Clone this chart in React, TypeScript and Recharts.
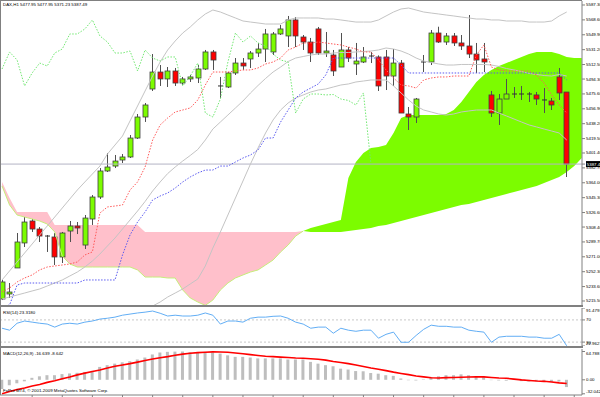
import {
  Area,
  Bar,
  ComposedChart,
  Line,
  ReferenceLine,
  XAxis,
  YAxis,
} from "recharts";

const symbol = "DAX,H1";

// hourly candles, oldest first
const opens = [
  5218.0, 5224.3, 5257.0, 5288.4, 5316.0, 5305.9, 5297.1, 5295.9, 5270.8, 5303.4,
  5309.7, 5285.8, 5318.5, 5346.1, 5378.8, 5385.0, 5392.6, 5396.4, 5420.2, 5446.6,
  5481.8, 5503.1, 5494.4, 5504.4, 5489.3, 5494.4, 5495.6, 5506.9, 5528.3, 5484.3,
  5484.3, 5501.9, 5514.4, 5519.5, 5527.0, 5532.0, 5528.3, 5550.9, 5548.4, 5568.5,
  5547.1, 5540.8, 5557.2, 5527.0, 5524.5, 5509.4, 5530.8, 5513.2, 5515.7, 5523.2,
  5522.0, 5522.0, 5498.1, 5514.4, 5450.4, 5446.6, 5514.4, 5515.7, 5552.1, 5540.8,
  5548.4, 5539.6, 5535.8, 5525.7, 5519.5, 5474.3, 5451.6, 5469.2, 5474.3, 5475.5,
  5475.5, 5474.3, 5468.0, 5466.7, 5496.9, 5477.95,
];
const highs = [
  5241.9, 5238.1, 5300.9, 5321.0, 5318.5, 5308.4, 5298.4, 5300.9, 5302.2, 5316.0,
  5314.7, 5323.5, 5348.6, 5382.5, 5401.4, 5398.9, 5400.1, 5424.0, 5450.4, 5464.2,
  5525.7, 5511.9, 5509.4, 5508.2, 5496.9, 5499.4, 5511.9, 5530.8, 5530.8, 5496.9,
  5503.1, 5520.7, 5520.7, 5529.5, 5539.6, 5557.2, 5553.4, 5562.2, 5573.5, 5572.2,
  5549.6, 5545.9, 5559.7, 5553.4, 5530.8, 5552.1, 5534.5, 5539.6, 5534.5, 5528.3,
  5524.0, 5530.8, 5532.0, 5518.2, 5459.2, 5470.5, 5524.5, 5555.9, 5560.0, 5552.1,
  5552.1, 5549.6, 5574.7, 5539.6, 5539.6, 5479.3, 5475.5, 5494.4, 5484.3, 5485.6,
  5478.0, 5478.0, 5483.0, 5470.5, 5508.2, 5477.95,
];
const lows = [
  5216.7, 5219.3, 5257.0, 5283.3, 5302.2, 5289.6, 5277.1, 5260.7, 5263.2, 5289.6,
  5299.6, 5280.8, 5311.0, 5343.6, 5377.5, 5382.5, 5388.8, 5395.1, 5419.0, 5440.4,
  5479.3, 5485.6, 5484.3, 5485.6, 5486.8, 5490.6, 5489.3, 5505.7, 5505.7, 5470.5,
  5483.0, 5499.4, 5505.7, 5508.2, 5522.0, 5515.7, 5524.5, 5549.6, 5534.5, 5534.5,
  5530.8, 5515.7, 5524.5, 5522.0, 5498.1, 5509.4, 5515.7, 5499.4, 5514.4, 5514.4,
  5479.3, 5480.5, 5485.6, 5451.6, 5430.3, 5439.1, 5503.1, 5511.9, 5539.6, 5537.1,
  5535.8, 5530.8, 5520.7, 5501.9, 5503.1, 5446.6, 5436.6, 5469.2, 5470.5, 5468.0,
  5465.5, 5461.7, 5451.6, 5455.4, 5468.0, 5371.23,
];
const closes = [
  5239.4, 5226.8, 5289.6, 5314.7, 5305.9, 5297.1, 5295.9, 5270.8, 5300.9, 5309.7,
  5307.2, 5319.7, 5346.1, 5378.8, 5383.8, 5391.3, 5396.4, 5420.2, 5446.6, 5461.7,
  5503.1, 5494.4, 5504.4, 5489.3, 5494.4, 5496.9, 5506.9, 5528.3, 5518.2, 5485.6,
  5501.9, 5514.4, 5510.7, 5527.0, 5532.0, 5550.9, 5550.9, 5557.2, 5568.5, 5548.4,
  5540.8, 5527.0, 5527.0, 5529.5, 5504.4, 5530.8, 5520.7, 5516.9, 5522.0, 5522.0,
  5485.6, 5498.1, 5514.4, 5451.6, 5446.6, 5469.2, 5515.7, 5552.1, 5540.8, 5548.4,
  5539.6, 5535.8, 5525.7, 5518.2, 5515.7, 5451.6, 5469.2, 5475.5, 5475.5, 5474.3,
  5474.9, 5469.2, 5467.4, 5461.7, 5476.8, 5387.49,
];

// bollinger bands
const bbUpper = [
  5241.9, 5253.2, 5264.5, 5275.8, 5287.1, 5298.4, 5309.7, 5321.0, 5332.3, 5343.6,
  5354.9, 5365.0, 5375.0, 5385.0, 5400.1, 5411.4, 5422.7, 5441.6, 5460.4, 5479.3,
  5498.1, 5515.7, 5530.8, 5542.1, 5552.1, 5559.7, 5568.5, 5576.0, 5581.0, 5578.5,
  5574.7, 5571.0, 5567.2, 5565.9, 5564.7, 5563.4, 5563.4, 5563.4, 5568.5, 5571.0,
  5571.0, 5571.0, 5571.0, 5569.7, 5569.7, 5568.5, 5567.2, 5565.9, 5565.9, 5565.9,
  5568.5, 5573.5, 5578.5, 5582.3, 5583.5, 5581.0, 5578.5, 5577.2, 5576.0, 5574.7,
  5573.5, 5572.2, 5571.0, 5569.7, 5569.7, 5568.5, 5568.5, 5567.2, 5567.2, 5567.2,
  5565.9, 5565.9, 5565.9, 5567.2, 5573.5, 5578.5,
];
const bbMiddle = [
  5218.0, 5220.5, 5223.0, 5225.5, 5228.1, 5230.6, 5234.3, 5238.1, 5241.9, 5246.9,
  5251.9, 5258.2, 5265.7, 5274.5, 5284.6, 5294.6, 5305.9, 5317.2, 5328.5, 5340.5,
  5353.7, 5365.0, 5375.6, 5383.8, 5391.3, 5398.3, 5405.8, 5417.7, 5431.5, 5440.3,
  5449.1, 5457.9, 5466.7, 5476.8, 5486.2, 5495.0, 5503.1, 5509.4, 5516.3, 5520.7,
  5522.6, 5524.5, 5525.7, 5525.7, 5527.0, 5527.6, 5527.6, 5528.3, 5528.9, 5529.5,
  5530.8, 5533.3, 5532.0, 5529.5, 5525.7, 5520.7, 5516.9, 5515.1, 5513.2, 5511.9,
  5511.9, 5512.6, 5512.6, 5512.6, 5512.6, 5511.9, 5510.1, 5507.5, 5505.7, 5503.8,
  5501.3, 5500.0, 5498.7, 5498.1, 5500.0, 5498.1,
];
const bbLower = [
  null, null, null, null, null, null, null, null, null, null,
  null, null, null, null, null, null, null, null, null, 5201.7,
  5209.2, 5214.2, 5220.5, 5225.5, 5230.6, 5236.9, 5243.1, 5259.5, 5282.0, 5302.2,
  5323.5, 5344.9, 5366.2, 5387.6, 5407.7, 5426.5, 5442.9, 5455.4, 5464.2, 5470.5,
  5474.3, 5478.0, 5480.5, 5481.8, 5484.3, 5486.8, 5488.1, 5490.6, 5491.8, 5493.1,
  5493.1, 5493.1, 5485.6, 5476.8, 5468.0, 5460.4, 5455.4, 5452.9, 5450.4, 5449.1,
  5450.4, 5452.9, 5454.2, 5455.4, 5455.4, 5455.4, 5451.6, 5447.9, 5444.1, 5440.3,
  5436.6, 5434.1, 5431.5, 5429.0, 5426.5, 5417.7,
];

// ichimoku
const tenkan = [
  5226.8, 5231.8, 5239.4, 5244.4, 5248.2, 5254.5, 5258.2, 5259.5, 5260.7, 5262.0,
  5264.5, 5273.3, 5277.1, 5326.0, 5333.6, 5334.8, 5336.1, 5354.9, 5365.0, 5383.8,
  5417.7, 5436.6, 5445.4, 5452.9, 5455.4, 5458.0, 5468.0, 5486.8, 5503.1, 5503.1,
  5503.1, 5504.4, 5505.7, 5505.7, 5508.2, 5513.2, 5515.7, 5520.7, 5530.8, 5534.5,
  5539.6, 5539.6, 5540.8, 5539.6, 5538.3, 5537.1, 5534.5, 5532.0, 5528.3, 5528.3,
  5518.2, 5505.7, 5495.6, 5486.8, 5485.6, 5483.0, 5493.1, 5495.6, 5496.9, 5496.9,
  5498.1, 5498.1, 5498.1, 5524.5, 5537.1, 5509.4, 5505.7, 5504.4, 5504.4, 5504.4,
  5504.4, 5499.4, 5489.3, 5474.3, 5461.7, 5451.6,
];
const kijun = [
  5207.9, 5210.5, 5235.6, 5238.1, 5238.1, 5238.1, 5238.1, 5238.1, 5238.1, 5238.1,
  5238.1, 5241.9, 5241.9, 5241.9, 5241.9, 5241.9, 5273.3, 5298.4, 5314.7, 5327.3,
  5342.4, 5347.4, 5351.2, 5357.4, 5365.0, 5371.3, 5376.3, 5380.0, 5380.0, 5385.0,
  5385.0, 5390.1, 5395.1, 5398.9, 5405.2, 5420.2, 5420.2, 5440.3, 5455.4, 5470.5,
  5478.0, 5483.0, 5488.1, 5499.4, 5520.7, 5520.7, 5520.7, 5520.7, 5520.7, 5520.7,
  5520.7, 5520.7, 5520.7, 5511.9, 5501.9, 5501.9, 5501.9, 5501.9, 5501.9, 5501.9,
  5501.9, 5501.9, 5501.9, 5501.9, 5501.9, 5501.9, 5501.9, 5501.9, 5501.9, 5501.9,
  5501.9, 5501.9, 5501.9, 5501.9, 5501.9, 5493.1,
];
// senkou spans run two bars past the last candle
const spanA = [
  5360.0, 5336.1, 5323.5, 5321.0, 5318.5, 5316.0, 5312.2, 5302.2, 5272.0, 5262.0,
  5258.2, 5258.2, 5258.2, 5258.2, 5258.2, 5258.2, 5258.2, 5258.2, 5254.5, 5245.6,
  5245.6, 5245.6, 5244.4, 5244.4, 5229.3, 5219.3, 5214.2, 5210.0, 5216.7, 5229.3,
  5238.1, 5244.4, 5248.2, 5251.9, 5254.5, 5260.7, 5267.0, 5277.1, 5285.8, 5297.1,
  5303.4, 5307.2, 5309.7, 5312.2, 5314.7, 5317.2, 5370.0, 5390.1, 5401.4, 5407.7,
  5409.0, 5411.4, 5426.5, 5445.4, 5449.1, 5449.1, 5449.1, 5449.1, 5449.1, 5450.4,
  5455.4, 5465.5, 5478.0, 5490.6, 5499.4, 5505.7, 5510.7, 5514.4, 5518.2, 5522.0,
  5525.7, 5528.3, 5528.3, 5528.3, 5525.7, 5522.0, 5520.7, 5520.7,
];
const spanB = [
  5365.0, 5344.9, 5327.3, 5327.3, 5327.3, 5327.3, 5327.3, 5311.0, 5311.0, 5311.0,
  5311.0, 5311.0, 5311.0, 5311.0, 5311.0, 5311.0, 5311.0, 5311.0, 5311.0, 5302.2,
  5302.2, 5302.2, 5302.2, 5302.2, 5302.2, 5302.2, 5302.2, 5302.2, 5302.2, 5302.2,
  5302.2, 5302.2, 5302.2, 5302.2, 5302.2, 5302.2, 5302.2, 5302.2, 5302.2, 5302.2,
  5303.4, 5302.2, 5302.2, 5302.2, 5302.2, 5302.2, 5303.4, 5304.7, 5305.9, 5307.2,
  5309.7, 5311.0, 5313.5, 5316.0, 5318.5, 5321.0, 5323.5, 5326.0, 5328.5, 5331.0,
  5333.6, 5336.1, 5337.4, 5339.9, 5342.4, 5344.9, 5347.4, 5349.9, 5352.4, 5354.9,
  5357.4, 5360.0, 5363.7, 5367.5, 5371.3, 5377.5, 5385.0, 5395.1,
];

const rsi = [
  55, 51.5, 64, 68, 66, 64, 62.5, 57, 62.5, 64,
  62.5, 66, 68, 71.5, 73, 75, 78.5, 80.5, 82.5, 84,
  86, 82, 77, 78.5, 77, 77, 78.5, 82.5, 78.5, 62.5,
  68, 68, 66, 73, 75, 75, 76.5, 77, 73, 66,
  62.5, 55, 57, 57, 46, 55, 51.5, 49.5, 51.5, 51.5,
  37, 44, 48, 29.7, 29.7, 42, 53, 60.5, 58.5, 58.5,
  57, 57, 51.5, 49.5, 48, 29.7, 39, 40.5, 40.5, 40.5,
  39, 39, 37, 37, 44, 23.318,
];
const macdMain = [
  -21, -12.5, -8, -3.5, 4.5, 8, 10.5, 10.5, 13, 14.5,
  16, 18, 20.5, 29.5, 33.5, 37, 40, 42.5, 46.5, 51,
  58, 62.5, 64, 64.5, 64.788, 63, 63, 64, 63, 60,
  56, 52.5, 52.5, 51, 49, 49, 49, 49, 46.5, 46.5,
  46.5, 41, 37, 33.5, 31, 25.5, 23.5, 20, 19.5, 15.5,
  14, 10.5, 9, 3, -1, -1.5, 1, 6.5, 8, 10.5,
  10.5, 12.5, 10.5, 8, 6.5, -0.8, -1.5, -2, 1.5, -3,
  -4, -3.5, -4, -5, -4, -16.639,
];
const macdSignal = [
  -32.042, -27, -22.3, -18.8, -14, -10.6, -5.9, -2.4, 2.4, 6.6,
  11.3, 15.3, 18.8, 22.3, 27, 31, 34, 37, 40.4, 44,
  47.7, 50.5, 53, 56, 58.8, 60.6, 62.3, 63.2, 64, 63.5,
  63, 61.3, 59.5, 57.6, 55.7, 54, 53, 52, 51, 50,
  49.4, 48.2, 47, 45, 41.8, 39.5, 37, 34, 30.5, 27,
  24, 21, 17.6, 14.6, 11.8, 8.7, 6.6, 4.7, 4.2, 4.9,
  5.2, 5.9, 6.3, 6.6, 6.6, 5.4, 4.2, 3.5, 1.6, -0.2,
  -1.6, -2.8, -3.5, -4.9, -7, -8.642,
];

const priceTicks = [
  5587.3, 5568.6, 5549.9, 5531.2, 5512.5, 5494.3, 5475.6, 5456.9, 5438.2, 5419.5,
  5401.4, 5382.7, 5364.0, 5345.3, 5326.6, 5308.4, 5289.7, 5271.0, 5252.3, 5233.6,
  5215.5,
];
const rsiTicks = [91.4791, 70, 30, 22.9627];
const macdTicks = [64.788, 0, -32.042];
const timeTicks = [4, 8, 12, 16, 20, 24, 28, 32, 36, 40, 44, 48, 52, 56, 60, 64, 68, 72, 76];

const last = closes.length - 1;
const lastClose = closes[last];
const chikou = closes.slice(26); // lagging span: close plotted 26 bars back

const rows = spanA.map((a, i) => {
  const b = spanB[i];
  const has = i <= last;
  return {
    i,
    o: has ? opens[i] : null,
    h: has ? highs[i] : null,
    l: has ? lows[i] : null,
    c: has ? closes[i] : null,
    range: has ? [lows[i], highs[i]] : null,
    upper: bbUpper[i] ?? null,
    middle: bbMiddle[i] ?? null,
    lower: bbLower[i] ?? null,
    tenkan: tenkan[i] ?? null,
    kijun: kijun[i] ?? null,
    chikou: chikou[i] ?? null,
    kumoDown: b >= a ? [a, b] : null,
    kumoUp: a >= b ? [b, a] : null,
    edgeA: b >= a ? a : null,
    rsi: rsi[i] ?? null,
    macd: macdMain[i] ?? null,
    signal: macdSignal[i] ?? null,
  };
});

const FONT = "'Liberation Sans', Arial, sans-serif";
const FS = 4.4;
const FRAME = "#808080";
const X_DOMAIN: [number, number] = [-0.27, 77.03];

function Candle(props: any) {
  const { x, y, width, height, payload } = props;
  if (payload.o == null) return null;
  const { o, h, l, c } = payload;
  const span = h - l || 1;
  const py = (v: number) => y + ((h - v) / span) * height;
  const cx = Math.round(x + width / 2) + 0.5;
  const top = py(Math.max(o, c));
  const bot = py(Math.min(o, c));
  const up = c >= o;
  return (
    <g>
      <line x1={cx} x2={cx} y1={y} y2={y + height} stroke="#505050" strokeWidth={1} />
      {bot - top < 1.2 ? (
        <line x1={cx - 2.5} x2={cx + 2.5} y1={top} y2={top} stroke="#303030" strokeWidth={1} />
      ) : (
        <rect
          x={cx - 2.5}
          y={top}
          width={5}
          height={bot - top}
          fill={up ? "#7CFC00" : "#FF0000"}
          stroke="#404040"
          strokeWidth={0.8}
        />
      )}
    </g>
  );
}

function PriceTick(props: any) {
  const { x, y, payload } = props;
  const v = payload.value as number;
  if (v === lastClose) {
    return (
      <g>
        <rect x={x} y={y - 3} width={18} height={6} fill="#000" />
        <text x={x + 0.8} y={y} dominantBaseline="central" fill="#fff" fontSize={FS} fontFamily={FONT}>
          {v.toFixed(2)}
        </text>
      </g>
    );
  }
  return (
    <text x={x} y={y} dominantBaseline="central" fill="#000" fontSize={FS} fontFamily={FONT}>
      {v.toFixed(2)}
    </text>
  );
}

function LevelTick(props: any) {
  const { x, y, payload, index, fmt, count } = props;
  const shift = index === 0 ? 2.5 : index === count - 1 ? -2.5 : 0;
  return (
    <text x={x} y={y + shift} dominantBaseline="central" fill="#000" fontSize={FS} fontFamily={FONT}>
      {fmt(payload.value)}
    </text>
  );
}

const rsiFmt = (v: number) => (Number.isInteger(v) ? String(v) : v.toFixed(4));
const macdFmt = (v: number) => (v === 0 ? "0.00" : String(v));

const textStyle: React.CSSProperties = {
  position: "absolute",
  left: 3,
  fontFamily: FONT,
  fontSize: FS,
  lineHeight: 1,
  color: "#000",
  whiteSpace: "nowrap",
};

export default function App() {
  const title = `${symbol} ${opens[last].toFixed(2)} ${highs[last].toFixed(2)} ${lows[last].toFixed(2)} ${lastClose.toFixed(2)}`;
  const rsiTitle = `RSI(14) ${rsi[last].toFixed(4)}`;
  const macdTitle = `MACD(12,26,9) ${macdMain[last].toFixed(3)} ${macdSignal[last].toFixed(3)}`;

  return (
    <div
      style={{
        position: "absolute",
        left: 0,
        top: 0,
        width: 600,
        height: 397,
        overflow: "hidden",
        background: "#fff",
      }}
    >
      {/* price window */}
      <div style={{ position: "absolute", left: 0, top: 0 }}>
        <ComposedChart width={600} height={306} data={rows} margin={{ top: 1, right: 0, bottom: 1, left: 0 }}>
          <XAxis type="number" dataKey="i" domain={X_DOMAIN} hide allowDataOverflow />
          <YAxis
            orientation="right"
            width={18}
            domain={[5210.47, 5592.32]}
            allowDataOverflow
            ticks={[...priceTicks, lastClose]}
            interval={0}
            tickSize={3}
            tickMargin={1}
            stroke={FRAME}
            tick={(p: any) => <PriceTick {...p} />}
          />
          <Area dataKey="kumoDown" fill="#FFC0CB" fillOpacity={1} stroke="none" isAnimationActive={false} />
          <Area dataKey="kumoUp" fill="#7CFC00" fillOpacity={1} stroke="none" isAnimationActive={false} />
          <Line dataKey="edgeA" stroke="#C6EE7A" strokeWidth={1} dot={false} isAnimationActive={false} />
          <ReferenceLine y={lastClose} stroke="#B4B4C4" strokeWidth={1} />
          <Line dataKey="upper" stroke="#C4C4C4" strokeWidth={1} dot={false} isAnimationActive={false} />
          <Line dataKey="middle" stroke="#C4C4C4" strokeWidth={1} dot={false} isAnimationActive={false} />
          <Line dataKey="lower" stroke="#C4C4C4" strokeWidth={1} dot={false} isAnimationActive={false} />
          <Line dataKey="chikou" stroke="#72E872" strokeWidth={1} strokeDasharray="1.5 1.5" dot={false} isAnimationActive={false} />
          <Line dataKey="tenkan" stroke="#FF5A5A" strokeWidth={1} strokeDasharray="1.5 1.5" dot={false} isAnimationActive={false} />
          <Line dataKey="kijun" stroke="#5A5AF0" strokeWidth={1} strokeDasharray="1.5 1.5" dot={false} isAnimationActive={false} />
          <Bar dataKey="range" barSize={5} shape={(p: any) => <Candle {...p} />} isAnimationActive={false} />
        </ComposedChart>
      </div>

      {/* RSI window */}
      <div style={{ position: "absolute", left: 0, top: 308 }}>
        <ComposedChart width={600} height={38} data={rows} margin={{ top: 0, right: 0, bottom: 0, left: 0 }}>
          <XAxis type="number" dataKey="i" domain={X_DOMAIN} hide allowDataOverflow />
          <YAxis
            orientation="right"
            width={18}
            domain={[rsiTicks[3], rsiTicks[0]]}
            allowDataOverflow
            ticks={rsiTicks}
            interval={0}
            tickSize={3}
            tickMargin={1}
            stroke={FRAME}
            tick={(p: any) => <LevelTick {...p} fmt={rsiFmt} count={rsiTicks.length} />}
          />
          <ReferenceLine y={70} stroke="#C8C8C8" strokeDasharray="2 2" />
          <ReferenceLine y={30} stroke="#C8C8C8" strokeDasharray="2 2" />
          <Line dataKey="rsi" stroke="#62AEF5" strokeWidth={1} dot={false} isAnimationActive={false} />
        </ComposedChart>
      </div>

      {/* MACD window */}
      <div style={{ position: "absolute", left: 0, top: 349 }}>
        <ComposedChart width={600} height={49} data={rows} margin={{ top: 0, right: 0, bottom: 0, left: 0 }}>
          <XAxis
            type="number"
            dataKey="i"
            domain={X_DOMAIN}
            allowDataOverflow
            ticks={timeTicks}
            interval={0}
            height={3}
            tickSize={2}
            tickFormatter={() => ""}
            stroke={FRAME}
          />
          <YAxis
            orientation="right"
            width={18}
            domain={[-34.8, 70.5]}
            allowDataOverflow
            ticks={macdTicks}
            interval={0}
            tickSize={3}
            tickMargin={1}
            stroke={FRAME}
            tick={(p: any) => <LevelTick {...p} fmt={macdFmt} count={macdTicks.length} />}
          />
          <Bar dataKey="macd" barSize={3} fill="#BEBEBE" isAnimationActive={false} />
          <Line dataKey="signal" stroke="#FF0000" strokeWidth={1.6} dot={false} isAnimationActive={false} />
        </ComposedChart>
      </div>

      {/* window frames */}
      <div style={{ position: "absolute", left: 0, top: 0, width: 582, height: 1, background: FRAME }} />
      <div style={{ position: "absolute", left: 0, top: 0, width: 1, height: 395, background: FRAME }} />
      <div style={{ position: "absolute", left: 0, top: 305, width: 583, height: 2, background: FRAME }} />
      <div style={{ position: "absolute", left: 0, top: 346, width: 583, height: 2, background: FRAME }} />

      <div style={{ ...textStyle, top: 3 }}>{title}</div>
      <div style={{ ...textStyle, top: 311 }}>{rsiTitle}</div>
      <div style={{ ...textStyle, top: 352 }}>{macdTitle}</div>
      <div style={{ ...textStyle, top: 389 }}>FxPro MT4, © 2001-2009 MetaQuotes Software Corp.</div>
    </div>
  );
}
